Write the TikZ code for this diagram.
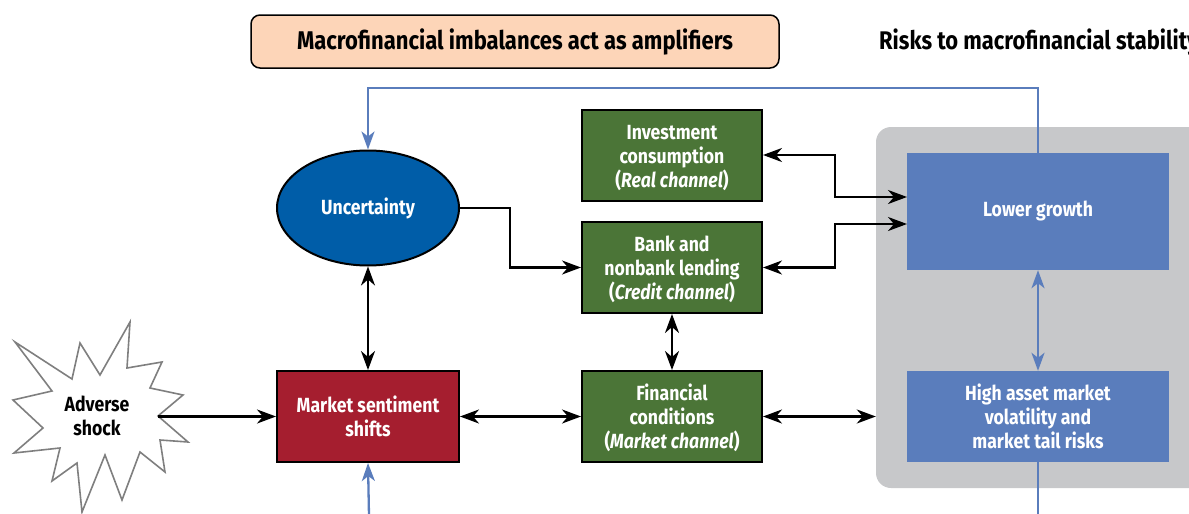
\documentclass[tikz,border=0pt]{standalone}
\usepackage{fontspec}
\setmainfont{Fira Sans}[FakeStretch=0.86]
\usetikzlibrary{arrows.meta,shapes.geometric}
\definecolor{peach}{HTML}{FDD5B8}
\definecolor{panelgray}{HTML}{C7C8CA}
\definecolor{riskblue}{HTML}{5A7DBC}
\definecolor{uncblue}{HTML}{005DA8}
\definecolor{sentred}{HTML}{A51E2F}
\definecolor{chgreen}{HTML}{4B7537}
\definecolor{starline}{HTML}{7F7F7F}
\newcommand{\topstrut}{\rule{0pt}{20pt}}
\tikzset{
  boxfont/.style={font=\bfseries\fontsize{20.5}{24}\selectfont},
  chbox/.style={draw=black, line width=2pt, fill=chgreen, text=white, align=center,
    minimum width=180pt, minimum height=91pt, inner sep=0pt, boxfont},
  riskbox/.style={fill=riskblue, text=white, align=center, minimum width=262pt, inner sep=0pt,
    boxfont},
  conn/.style={draw=black, line width=2.3pt},
  tipb/.tip={Stealth[length=19pt,width=14pt,inset=6pt]},
  tipbl/.tip={Stealth[length=18pt,width=13pt,inset=5pt]},
  bconn/.style={draw=riskblue, line width=2.3pt},
}
\begin{document}
\begin{tikzpicture}[x=1pt,y=-1pt]
\useasboundingbox (0,0) rectangle (1189,514);

% title
\node[draw=black, line width=1.5pt, fill=peach, rounded corners=9pt,
  minimum width=528pt, minimum height=53pt, inner sep=0pt,
  font=\bfseries\fontsize{25.6}{29}\selectfont] (title) at (515,41.5)
  {Macrofinancial imbalances act as amplifiers};
\node[anchor=west, inner sep=0pt, font=\bfseries\fontsize{25.5}{29}\selectfont] (risktitle)
  at (879,42) {Risks to macrofinancial stability};

% gray panel
\node[fill=panelgray, rounded corners=15pt, minimum width=334pt, minimum height=361pt,
  inner sep=0pt] (panel) at (1043,307.5) {};

% risk boxes
\node[riskbox, minimum height=117pt] (lg) at (1038,211.5) {Lower growth};
\node[riskbox, minimum height=91pt] (ha) at (1038,416.5)
  {High asset market\\volatility and\\market tail risks};

% channel boxes
\node[chbox] (inv) at (672,155) {\topstrut Investment\\consumption\\(\textit{Real channel})};
\node[chbox] (bank) at (672,267.5) {\topstrut Bank and\\nonbank lending\\(\textit{Credit channel})};
\node[chbox] (fin) at (672,416.5) {\topstrut Financial\\conditions\\(\textit{Market channel})};

% sentiment and uncertainty
\node[draw=black, line width=2pt, fill=sentred, text=white, align=center,
  minimum width=182pt, minimum height=91pt, inner sep=0pt, boxfont] (ms) at (368,416.5)
  {Market sentiment\\shifts};
\node[ellipse, draw=black, line width=2pt, fill=uncblue, text=white,
  minimum width=182pt, minimum height=115pt, inner sep=0pt, boxfont] (unc) at (368,208)
  {Uncertainty};

% adverse shock star
\draw[starline, line width=1.6pt, fill=white, line join=miter]
  (130,322) -- (127,368) -- (162,362) -- (150,388) -- (183,395) -- (158,416)
  -- (188,442) -- (160,440) -- (165,472) -- (140,452) -- (122,500) -- (105,455)
  -- (82,512) -- (77,463) -- (52,481) -- (60,448) -- (14,453) -- (43,428)
  -- (13,400) -- (52,391) -- (15,342) -- (72,379) -- (80,343) -- (100,375) -- cycle;
\node[align=center, inner sep=0pt, boxfont] (shock) at (97,416) {Adverse\\shock};
\coordinate (shocktip) at (158,416.5);

% black connectors
\draw[conn, -tipb] (shocktip) -- (ms.west);
\draw[conn, tipb-tipb] (unc.south) -- (ms.north);
\draw[conn, -tipb] (unc.east) -- (510,208) |- (bank.west);
\draw[conn, tipb-tipb] (ms.east) -- (fin.west);
\draw[conn, tipb-tipb] (bank.south) -- (fin.north);
\draw[conn, tipb-tipb] (fin.east) -- (panel.west |- fin.east);
\coordinate (lgA) at (907,197);
\coordinate (lgB) at (907,224);
\draw[conn, tipb-tipb] (inv.east) -- (835,155) |- (lgA);
\draw[conn, tipb-tipb] (bank.east) -- (835,267.5) |- (lgB);

% blue connectors
\draw[bconn, -tipbl] (lg.north) -- (1038,88) -| (unc.north);
\draw[bconn, tipbl-tipbl] (lg.south) -- (ha.north);
\coordinate (haout) at (1038,516);
\draw[bconn] (ha.south) -- (haout);
\coordinate (msin) at (369,516);
\draw[bconn, -tipbl] (msin) -- (ms.south);
\end{tikzpicture}
\end{document}
